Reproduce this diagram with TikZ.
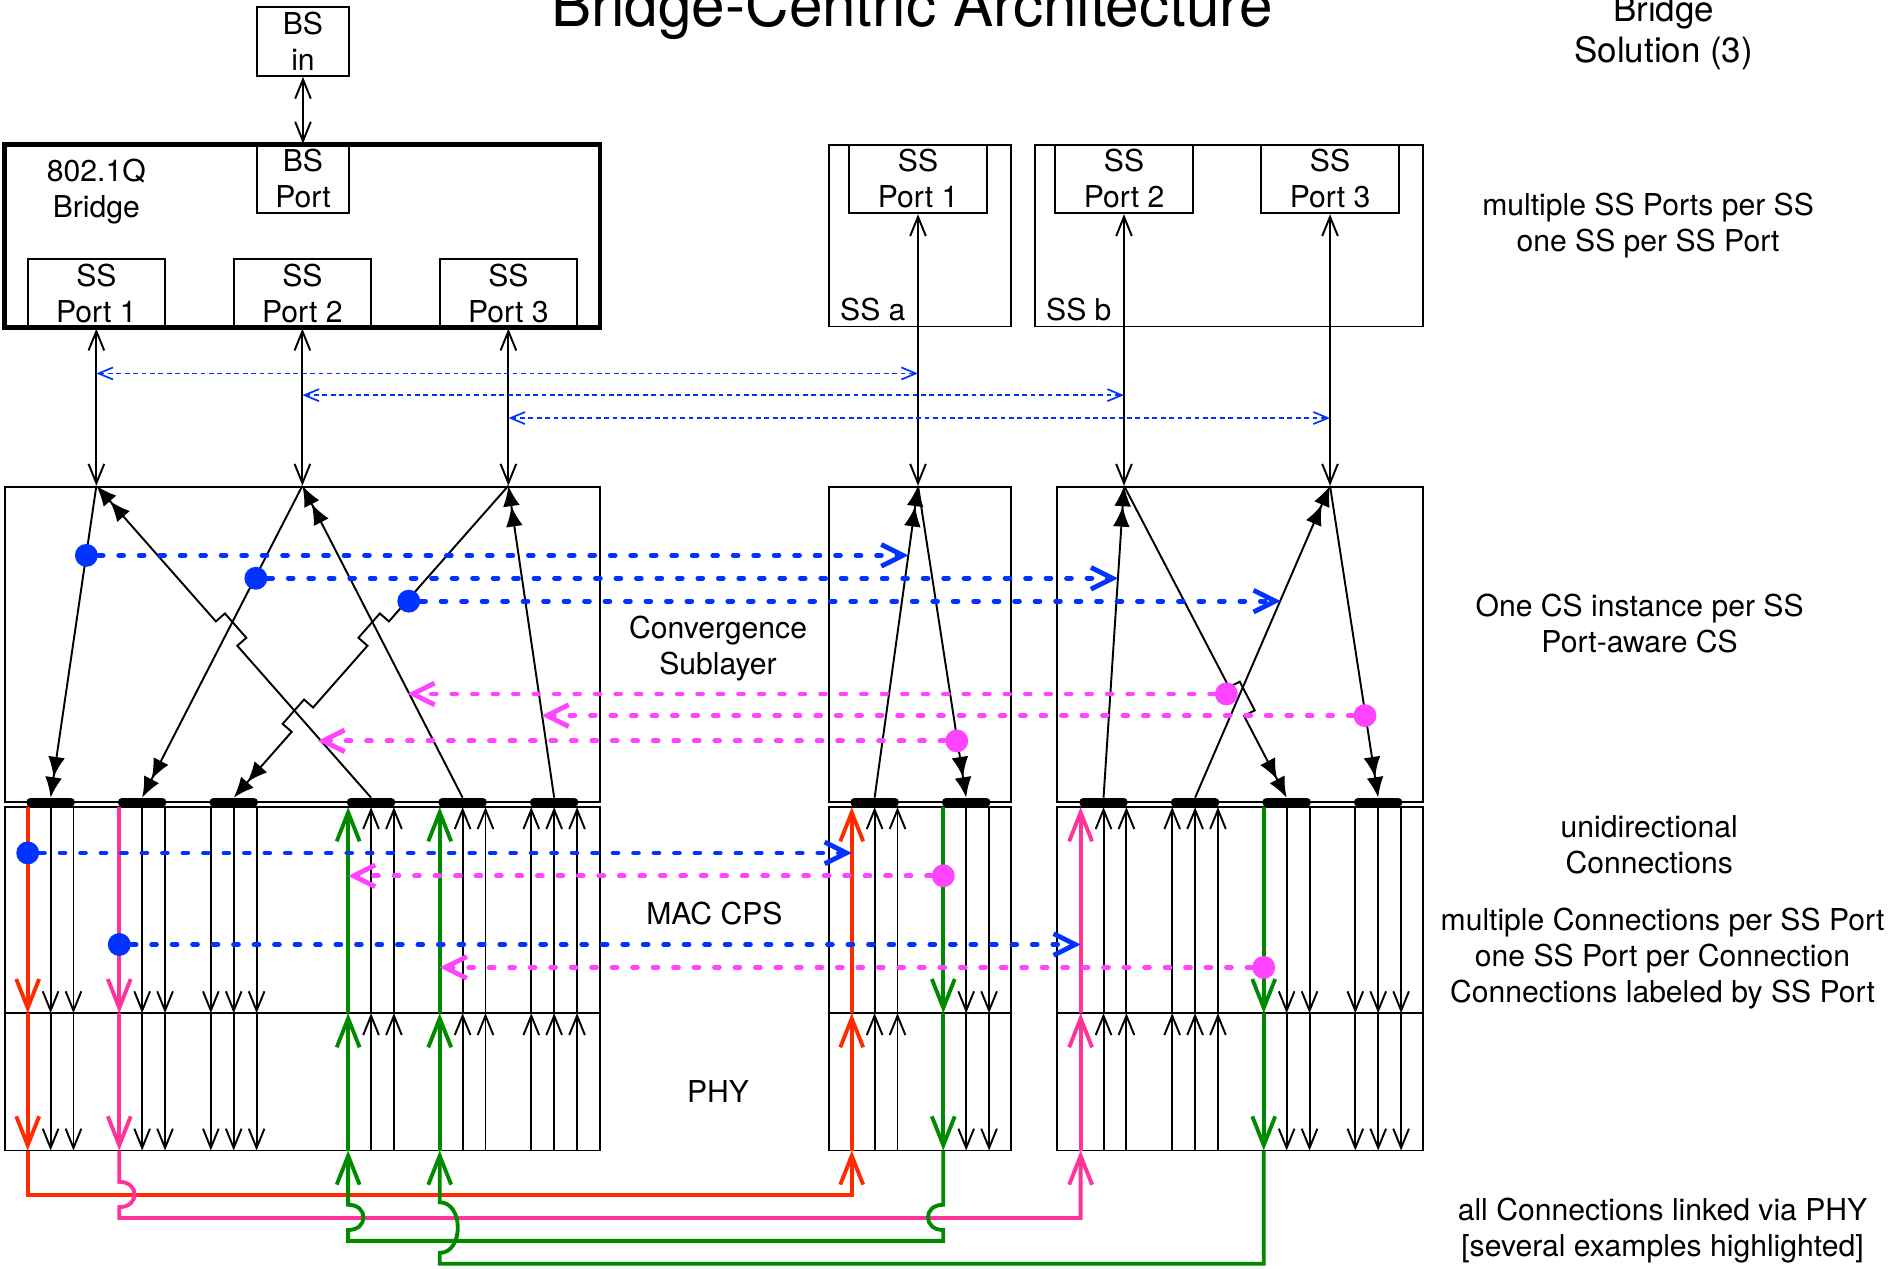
\documentclass[tikz,border=0pt]{standalone}
\usepackage{fontspec}
\setmainfont{TeX Gyre Heros}
\usetikzlibrary{arrows.meta,calc}
\definecolor{cBlue}{HTML}{0033FF}
\definecolor{cMag}{HTML}{FF44FF}
\definecolor{cRed}{HTML}{FF2A00}
\definecolor{cPink}{HTML}{FF3399}
\definecolor{cGreen}{HTML}{008A00}
\newcommand\boxfont{\fontsize{12.5}{15}\selectfont}
\newcommand\titlefont{\fontsize{25}{30}\selectfont}
\newcommand\subtitlefont{\fontsize{14.5}{17}\selectfont}
\tikzset{
  box/.style={draw, line width=0.8pt, inner sep=0pt, align=center, font=\boxfont},
  portbox/.style={box, minimum width=57pt, minimum height=28.5pt},
  note/.style={align=center, font=\boxfont},
  bar/.style={fill=black, rounded corners=1.5pt, inner sep=0pt, minimum width=20pt, minimum height=3.5pt},
  bidir/.style={line width=0.8pt, {Straight Barb[length=8pt,width=6.5pt]}-{Straight Barb[length=8pt,width=6.5pt]}},
  conn/.style={line width=0.8pt, -{Straight Barb[length=8pt,width=6.5pt]}},
  csarrow/.style={line width=0.8pt, -{Latex[length=8.5pt,width=7pt]Latex[length=8.5pt,width=7pt]}},
  hilite/.style={line width=1.6pt, -{Straight Barb[length=12pt,width=9.5pt]}},
  mapblue/.style={draw=cBlue, line width=2pt, line cap=round, dash pattern=on 2pt off 6.5pt,
    -{Straight Barb[length=9pt,width=9pt]}},
  mapmag/.style={mapblue, draw=cMag},
  thinblue/.style={draw=cBlue, line width=0.7pt, dash pattern=on 2pt off 1.5pt,
    {Straight Barb[length=6pt,width=5pt]}-{Straight Barb[length=6pt,width=5pt]}},
  bdot/.style={circle, fill=cBlue, inner sep=0pt, minimum size=9.5pt},
  mdot/.style={bdot, fill=cMag}
}
\begin{document}
\begin{tikzpicture}[x=0.5pt,y=-0.5pt]
  \path[fill=white, use as bounding box] (0,0) rectangle (1568,1053);

  \node[font=\titlefont, anchor=base] (title) at (757,22) {Bridge-Centric Architecture};
  \node[font=\subtitlefont, anchor=base] (sol1) at (1381,18) {Bridge};
  \node[font=\subtitlefont, anchor=base] (sol2) at (1381,52) {Solution (3)};

  % bridge and subscriber stations
  \node[box, minimum width=38.5pt, minimum height=28.5pt] (bsin) at (251.5,34.5) {BS\\in};
  \node[box, line width=2pt, minimum width=247pt, minimum height=76pt] (bridge) at (251,196) {};
  \node[box, minimum width=38.5pt, minimum height=28.5pt] (bsport) at (251.5,148.5) {BS\\Port};
  \node[note] (brname) at (80,159) {802.1Q\\Bridge};
  \node[portbox] (brp1) at (80,243.5) {SS\\Port 1};
  \node[portbox] (brp2) at (251,243.5) {SS\\Port 2};
  \node[portbox] (brp3) at (422,243.5) {SS\\Port 3};
  \node[box, minimum width=75.5pt, minimum height=75.5pt] (ssa) at (763.5,195.5) {};
  \node[portbox] (ssp1) at (762,148.5) {SS\\Port 1};
  \node[anchor=base west, font=\boxfont, inner sep=0pt] (ssaname) at (697,266) {SS a};
  \node[box, minimum width=161pt, minimum height=75.5pt] (ssb) at (1020,195.5) {};
  \node[portbox] (ssp2) at (933,148.5) {SS\\Port 2};
  \node[portbox] (ssp3) at (1104,148.5) {SS\\Port 3};
  \node[anchor=base west, font=\boxfont, inner sep=0pt] (ssbname) at (868,266) {SS b};

  % layers
  \node[box, minimum width=247pt, minimum height=131pt] (csL) at (251,535) {};
  \node[box, minimum width=75.5pt, minimum height=131pt] (csA) at (763.5,535) {};
  \node[box, minimum width=152pt, minimum height=131pt] (csB) at (1029,535) {};
  \node[box, minimum width=247pt, minimum height=85.5pt] (macL) at (251,755.5) {};
  \node[box, minimum width=75.5pt, minimum height=85.5pt] (macA) at (763.5,755.5) {};
  \node[box, minimum width=152pt, minimum height=85.5pt] (macB) at (1029,755.5) {};
  \node[box, minimum width=247pt, minimum height=57pt] (phyL) at (251,898) {};
  \node[box, minimum width=75.5pt, minimum height=57pt] (phyA) at (763.5,898) {};
  \node[box, minimum width=152pt, minimum height=57pt] (phyB) at (1029,898) {};
  \node[note] (cslabel) at (596,538) {Convergence\\Sublayer};
  \node[note] (maclabel) at (593,758) {MAC CPS};
  \node[note] (phylabel) at (596,906) {PHY};

  \node[note] (txt1) at (1368,187) {multiple SS Ports per SS\\one SS per SS Port};
  \node[note] (txt2) at (1361,517.5) {One CS instance per SS\\Port-aware CS};
  \node[note] (txt3) at (1369,701.5) {unidirectional\\Connections};
  \node[note] (txt4) at (1380,795.5) {multiple Connections per SS Port\\one SS Port per Connection\\Connections labeled by SS Port};
  \node[note] (txt5) at (1380,1021.5) {all Connections linked via PHY\\{[several examples highlighted]}};

  % port links
  \draw[bidir] (bsin) -- (bsport);
  \foreach \p in {brp1,brp2,brp3,ssp1,ssp2,ssp3}
    \draw[bidir] (\p.south) -- (\p.south |- csL.north);
  \foreach \xa/\xb/\y in {80/762/310, 251/933/328, 422/1104/347}
    \draw[thinblue] (\xa,\y) -- (\xb,\y);

  % connections
  \foreach \x in {42,61,118,137,175,194,213,802,821,1068,1087,1125,1144,1163}{
    \draw[conn] (\x,670) -- (\x,841);
    \draw[conn] (\x,841) -- (\x,955);
  }
  \foreach \x in {308,327,384,403,441,460,479,726,745,916,935,973,992,1011}{
    \draw[conn] (\x,841) -- (\x,670);
    \draw[conn] (\x,955) -- (\x,841);
  }
  \foreach \x/\c in {23/cRed, 99/cPink, 783/cGreen, 1049/cGreen}{
    \draw[hilite, draw=\c] (\x,670) -- (\x,841);
    \draw[hilite, draw=\c] (\x,841) -- (\x,955);
  }
  \foreach \x/\c in {707/cRed, 897/cPink, 289/cGreen, 365/cGreen}{
    \draw[hilite, draw=\c] (\x,841) -- (\x,670);
    \draw[hilite, draw=\c] (\x,955) -- (\x,841);
  }
  \draw[hilite, draw=cRed] (23,955) -- (23,992) -| (707,955);
  \draw[hilite, draw=cPink] (99,955) -- (99,981) .. controls (116,981) and (116,1002) .. (99,1002)
    -- (99,1011) -| (897,955);
  \draw[hilite, draw=cGreen] (783,955) -- (783,1000) .. controls (766,1000) and (766,1021) .. (783,1021)
    -- (783,1030) -- (289,1030) -- (289,1021) .. controls (306,1021) and (306,1000) .. (289,1000) -- (289,955);
  \draw[hilite, draw=cGreen] (1049,955) -- (1049,1049) -- (365,1049) -- (365,1040)
    .. controls (385,1040) and (385,998) .. (365,998) -- (365,955);

  \foreach \n/\x in {L1/42,L2/118,L3/194,L4/308,L5/384,L6/460,A1/726,A2/802,B1/916,B2/992,B3/1068,B4/1144}
    \node[bar] (bar\n) at (\x,666) {};

  % convergence sublayer
  \coordinate (tL1) at (brp1.south |- csL.north);
  \coordinate (tL2) at (brp2.south |- csL.north);
  \coordinate (tL3) at (brp3.south |- csL.north);
  \coordinate (tA) at (ssp1.south |- csL.north);
  \coordinate (tB2) at (ssp2.south |- csL.north);
  \coordinate (tB3) at (ssp3.south |- csL.north);
  \draw[csarrow] (tL1) -- (barL1.north);
  \draw[csarrow] (tL2) -- (barL2.north);
  \draw[csarrow] (tL3) -- ($(tL3)!0.435!(barL3.north)$) -- ($(tL3)!0.435!(barL3.north)!5pt!-90:(barL3.north)$)
    -- ($(tL3)!0.513!(barL3.north)!5pt!-90:(barL3.north)$) -- ($(tL3)!0.513!(barL3.north)$)
    -- ($(tL3)!0.711!(barL3.north)$) -- ($(tL3)!0.711!(barL3.north)!5pt!-90:(barL3.north)$)
    -- ($(tL3)!0.789!(barL3.north)!5pt!-90:(barL3.north)$) -- ($(tL3)!0.789!(barL3.north)$) -- (barL3.north);
  \draw[csarrow] (barL4.north) -- ($(barL4.north)!0.487!(tL1)$) -- ($(barL4.north)!0.487!(tL1)!5pt!-90:(tL1)$)
    -- ($(barL4.north)!0.565!(tL1)!5pt!-90:(tL1)$) -- ($(barL4.north)!0.565!(tL1)$) -- (tL1);
  \draw[csarrow] (barL5.north) -- (tL2);
  \draw[csarrow] (barL6.north) -- (tL3);
  \draw[csarrow] (barA1.north) -- (tA);
  \draw[csarrow] (tA) -- (barA2.north);
  \draw[csarrow] (barB1.north) -- (tB2);
  \draw[csarrow] (tB2) -- ($(tB2)!0.646!(barB3.north)$) -- ($(tB2)!0.646!(barB3.north)!5pt!90:(barB3.north)$)
    -- ($(tB2)!0.738!(barB3.north)!5pt!90:(barB3.north)$) -- ($(tB2)!0.738!(barB3.north)$) -- (barB3.north);
  \draw[csarrow] (barB2.north) -- (tB3);
  \draw[csarrow] (tB3) -- (barB4.north);

  % mappings
  \foreach \n/\xa/\xb/\y in {1/71.7/754/461, 2/212.4/928/480, 3/339.3/1063/499, 4/23/707/708, 5/99/897/784}{
    \node[bdot] (db\n) at (\xa,\y) {};
    \coordinate (eb\n) at (\xb,\y);
    \draw[mapblue] (db\n) -- (eb\n);
  }
  \foreach \n/\xa/\xb/\y in {1/1018/338.3/576, 2/1133/449.6/594, 3/794.2/263.6/615, 4/783/289/727, 5/1049/365/803}{
    \node[mdot] (dm\n) at (\xa,\y) {};
    \coordinate (em\n) at (\xb,\y);
    \draw[mapmag] (dm\n) -- (em\n);
  }
\end{tikzpicture}
\end{document}
